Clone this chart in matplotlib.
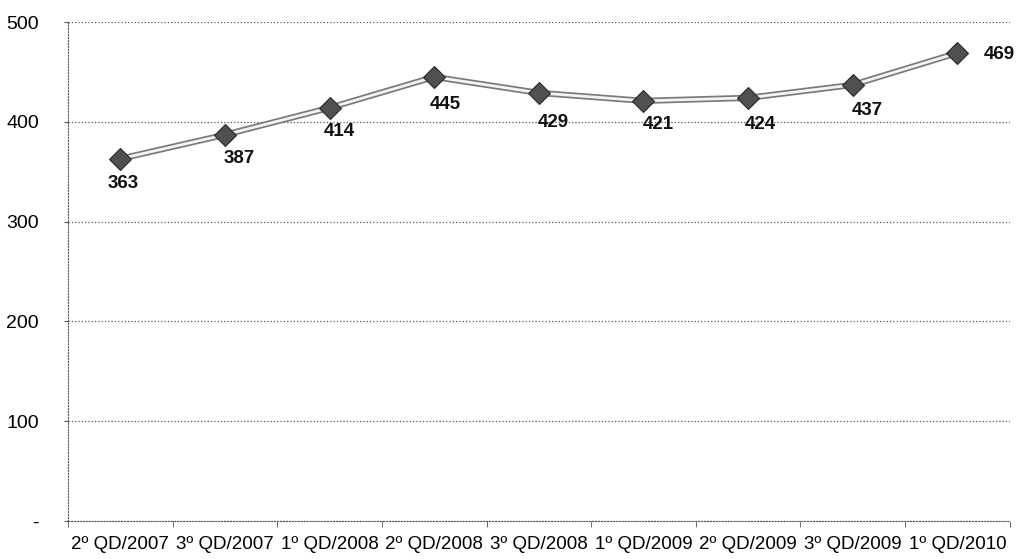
import matplotlib.pyplot as plt
import numpy as np

plt.rcParams['font.family'] = ['Liberation Sans', 'DejaVu Sans']

categories = ['2º QD/2007', '3º QD/2007', '1º QD/2008', '2º QD/2008', '3º QD/2008',
              '1º QD/2009', '2º QD/2009', '3º QD/2009', '1º QD/2010']
values = [363, 387, 414, 445, 429, 421, 424, 437, 469]
# label offsets in pixels (dx, dy) relative to each point
label_offsets = [(3, -25), (14, -24), (10, -24), (11, -28), (14, -30),
                 (15, -24), (12, -27), (15, -26), (42, -2)]

fig = plt.figure(figsize=(10.24, 5.59), dpi=100)
ax = fig.add_axes([0.0664, 0.068, 0.9196, 0.8926])

x = np.arange(len(categories))

# double line look: gray outer, white inner
ax.plot(x, values, color='#7a7a7a', lw=4.5, zorder=3, solid_capstyle='round')
ax.plot(x, values, color='#f4f4f4', lw=2, zorder=4)
ax.plot(x, values, ls='none', marker='D', ms=11, color='#505050',
        markeredgecolor='#2a2a2a', markeredgewidth=0.8, zorder=5)

for xi, v, (dx, dy) in zip(x, values, label_offsets):
    ax.annotate(str(v), (xi, v), xytext=(dx, dy), textcoords='offset pixels',
                ha='center', va='center', fontsize=13.5, fontweight='bold', color='#111111')

ax.set_xlim(-0.5, len(categories) - 0.5)
ax.set_ylim(0, 500)
ax.set_yticks([0, 100, 200, 300, 400, 500])
ax.set_yticklabels(['-', '100', '200', '300', '400', '500'], fontsize=14)
ax.yaxis.grid(True, ls=':', color='#555555', lw=0.9)
ax.set_axisbelow(True)

ax.set_xticks(x)
ax.set_xticklabels(categories, fontsize=13.5)
ax.tick_params(axis='x', length=0, pad=11)
ax.set_xticks(np.arange(-0.5, len(categories), 1), minor=True)
ax.tick_params(axis='x', which='minor', length=4, color='#555555')
ax.tick_params(axis='y', length=3, color='#555555', pad=18)

for side in ['top', 'right']:
    ax.spines[side].set_visible(False)
for side in ['left', 'bottom']:
    ax.spines[side].set_linestyle(':')
    ax.spines[side].set_color('#555555')

fig.savefig('out.png', dpi=100)
